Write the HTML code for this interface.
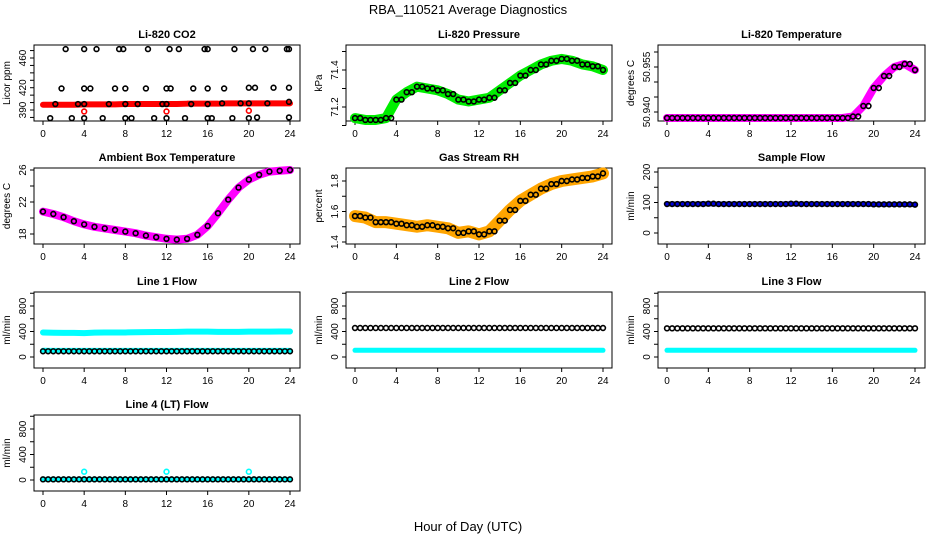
<!DOCTYPE html>
<html><head><meta charset="utf-8"><style>
body{margin:0;background:#fff}
svg{display:block;font-family:"Liberation Sans",Arial,sans-serif}
</style></head><body>
<svg id="c" width="936" height="540" viewBox="0 0 936 540">
<text x="468" y="14" text-anchor="middle" font-size="13">RBA_110521  Average Diagnostics</text>
<text x="468" y="531" text-anchor="middle" font-size="13">Hour of Day (UTC)</text>
</svg>
<script>
const hours=[0,1,2,3,4,5,6,7,8,9,10,11,12,13,14,15,16,17,18,19,20,21,22,23,24];
const xTicks=[0,4,8,12,16,20,24];
const co2Red=[397,397,397,397,397.5,397.5,397.5,397.5,398,398,398,398,398,398,398.5,398.5,398.5,398.5,399,399,399,399,399,399,399];
const co2RedOut=[[4,388],[12,388],[20,389]];
const co2Black=[[2.2,472],[4,472],[5.2,472],[7.4,472],[7.8,472],[10.2,472],[12.3,472],[13.2,472],[15.7,472],[16,472],[18.6,472],[20.4,472],[21.6,472],[23.7,472],[23.9,472],
[1.8,419],[4,419],[4.6,419],[7,419],[8,419],[10,419],[12,419],[12.4,419],[14.6,419],[16,419],[17.6,419],[20,420],[20.6,420],[22.4,420],[23.9,420],
[1.2,398],[3.4,398],[4,398],[6.4,398],[8,398],[9.2,398],[11.6,398],[12,398],[14.4,398],[16,398],[17.4,399],[19.2,399],[20,399],[21.8,399],[23.9,401],
[0.7,379],[2.8,379],[4,379],[5.8,379],[8,379],[8.6,379],[10.8,379],[12,379],[13.8,379],[16,379],[16.4,379],[18.4,379],[20,379],[20.8,380],[23.9,380]];
const pressure=[71.14,71.13,71.13,71.14,71.24,71.28,71.31,71.30,71.29,71.27,71.24,71.23,71.24,71.25,71.29,71.33,71.37,71.40,71.43,71.45,71.46,71.45,71.43,71.42,71.40];
const licorTemp=[50.938,50.938,50.938,50.938,50.938,50.938,50.938,50.938,50.938,50.938,50.938,50.938,50.938,50.938,50.938,50.938,50.938,50.938,50.9385,50.942,50.948,50.952,50.955,50.956,50.954];
const ambient=[20.8,20.5,20.1,19.6,19.2,18.9,18.7,18.5,18.3,18.1,17.8,17.6,17.4,17.3,17.4,17.9,19.0,20.6,22.3,23.8,24.8,25.4,25.8,25.9,26.0];
const rh=[1.57,1.56,1.53,1.53,1.52,1.51,1.50,1.51,1.50,1.49,1.46,1.47,1.45,1.47,1.54,1.61,1.67,1.71,1.75,1.78,1.80,1.81,1.82,1.83,1.85];
const sampleFlow=[95,95,95,95,96,95,95,95,95,95,95,95,96,95,95,95,95,95,95,95,94,94,94,94,93];
const line1Hi=[385,380,378,378,375,382,385,385,385,388,390,392,392,395,398,398,398,395,395,395,398,398,398,400,400];
const line1Lo=[105,103,103,103,103,103,103,103,103,103,103,103,103,103,103,103,103,103,103,103,103,103,103,103,103];
const line1Black=[90,90,90,90,90,90,90,90,90,90,90,90,90,90,90,90,90,90,90,90,90,90,90,90,90];
const line2Black=[455,455,455,455,455,455,455,455,455,455,455,455,455,455,455,455,455,455,455,455,455,455,455,455,455];
const line2Cyan=[105,105,105,105,105,105,105,105,105,105,105,105,105,105,105,105,105,105,105,105,105,105,105,105,105];
const line3Black=[450,450,450,450,450,450,450,450,450,450,450,450,450,450,450,450,450,450,450,450,450,450,450,450,450];
const line3Cyan=[105,105,105,105,105,105,105,105,105,105,105,105,105,105,105,105,105,105,105,105,105,105,105,105,105];
const line4Black=[10,10,10,10,10,10,10,10,10,10,10,10,10,10,10,10,10,10,10,10,10,10,10,10,10];
const line4Out=[[4,130],[12,130],[20,130]];

const svg=document.getElementById('c');
const NS='http://www.w3.org/2000/svg';
function mk(t,a,p){const e=document.createElementNS(NS,t);for(const k in a)e.setAttribute(k,a[k]);(p||svg).appendChild(e);return e;}
const cols=[{b:[34,300],x0:43,x24:290},{b:[346,612],x0:355,x24:603},{b:[658,925],x0:667,x24:915}];
const rows=[[45,121],[168,244],[292,368],[415,491]];

function panel(name,title,ylab,c,r,y1,py1,y2,py2,ticks,labels){
  const g=mk('g',{});
  
  
  const C=cols[c],R=rows[r];
  const sx=v=>C.x0+(C.x24-C.x0)*v/24;
  const sy=v=>py1+(v-y1)*(py2-py1)/(y2-y1);
  const box=mk('rect',{x:C.b[0],y:R[0],width:C.b[1]-C.b[0],height:R[1]-R[0],fill:'none',stroke:'#000','stroke-width':1},g);
  
  
  const t=mk('text',{x:(C.b[0]+C.b[1])/2,y:R[0]-7,'text-anchor':'middle','font-size':11,'font-weight':'bold'},g);t.textContent=title;
  
  
  mk('line',{x1:sx(0),x2:sx(24),y1:R[1],y2:R[1],stroke:'#000'},g);
  xTicks.forEach(v=>{mk('line',{x1:sx(v),x2:sx(v),y1:R[1],y2:R[1]+4,stroke:'#000'},g);
    const l=mk('text',{x:sx(v),y:R[1]+16,'text-anchor':'middle','font-size':10},g);l.textContent=v;
    
    });
  const tv=ticks.map(sy);
  mk('line',{x1:C.b[0],x2:C.b[0],y1:Math.min(...tv),y2:Math.max(...tv),stroke:'#000'},g);
  ticks.forEach((v,i)=>{const y=sy(v);mk('line',{x1:C.b[0]-4,x2:C.b[0],y1:y,y2:y,stroke:'#000'},g);
    if(labels[i]!==''){const l=mk('text',{x:0,y:0,'text-anchor':'middle','font-size':10,transform:`translate(${C.b[0]-8},${y}) rotate(-90)`},g);l.textContent=labels[i];
    
    }});
  const yl=mk('text',{x:0,y:0,'text-anchor':'middle','font-size':10,transform:`translate(${C.b[0]-24},${(R[0]+R[1])/2}) rotate(-90)`},g);yl.textContent=ylab;
  
  
  return {g,sx,sy};
}
function band(P,arr,color,w,name){
  const pl=mk('polyline',{points:arr.map((v,i)=>P.sx(hours[i])+','+P.sy(v)).join(' '),fill:'none',stroke:color,'stroke-width':w,'stroke-linecap':'round','stroke-linejoin':'round'},P.g);
  
  
}
function pts(P,arr,color,name,off){
  arr.forEach((v,i)=>{if(off&&i===24)return;const c=mk('circle',{cx:P.sx(hours[i]+(off||0)),cy:P.sy(v),r:2.4,fill:'none',stroke:color,'stroke-width':1.6},P.g);
  
  });
}
function xy(P,arr,color,name){
  arr.forEach(d=>{const c=mk('circle',{cx:P.sx(d[0]),cy:P.sy(d[1]),r:2.4,fill:'none',stroke:color,'stroke-width':1.6},P.g);
  
  });
}
let P;
P=panel('co2-panel','Li-820 CO2','Licor ppm',0,0,390,110,460,58,[380,390,400,410,420,430,440,450,460,470],['','390','','','420','','','','460','']);
band(P,co2Red,'#ff0000',6,'co2-red-series');xy(P,co2RedOut,'#ff0000','co2-red-point');xy(P,co2Black,'#000','co2-black-point');
P=panel('pressure-panel','Li-820 Pressure','kPa',1,0,71.2,107,71.4,70,[71.1,71.2,71.3,71.4,71.5],['','71.2','','71.4','']);
band(P,pressure,'#00ee00',10,'pressure-series');pts(P,pressure,'#000','pressure-point',0.5);pts(P,pressure,'#000','pressure-point',0);
P=panel('licor-temp-panel','Li-820 Temperature','degrees C',2,0,50.940,112,50.955,67,[50.940,50.945,50.950,50.955,50.960],['50.940','','','50.955','']);
band(P,licorTemp,'#ff00ff',8,'licor-temp-series');pts(P,licorTemp,'#000','licor-temp-point',0.5);pts(P,licorTemp,'#000','licor-temp-point',0);
P=panel('ambient-panel','Ambient Box Temperature','degrees C',0,1,18,234,26,170,[18,20,22,24,26],['18','','22','','26']);
band(P,ambient,'#ff00ff',8,'ambient-series');pts(P,ambient,'#000','ambient-point',0);
P=panel('rh-panel','Gas Stream RH','percent',1,1,1.4,242,1.8,181,[1.4,1.5,1.6,1.7,1.8],['1.4','','1.6','','1.8']);
band(P,rh,'#ffa500',12,'rh-series');pts(P,rh,'#000','rh-point',0.5);pts(P,rh,'#000','rh-point',0);
P=panel('sample-flow-panel','Sample Flow','ml/min',2,1,0,233,200,172,[0,50,100,150,200],['0','','100','','200']);
band(P,sampleFlow,'#0000dd',5,'sample-flow-series');pts(P,sampleFlow,'#000','sample-flow-point',0.5);pts(P,sampleFlow,'#000','sample-flow-point',0);
P=panel('line1-panel','Line 1 Flow','ml/min',0,2,0,357,800,306,[0,200,400,600,800,1000],['0','','400','','800','']);
band(P,line1Hi,'#00ffff',6,'line1-cyan-high');band(P,line1Lo,'#00ffff',5,'line1-cyan-low');pts(P,line1Black,'#000','line1-point',0.5);pts(P,line1Black,'#000','line1-point',0);
P=panel('line2-panel','Line 2 Flow','ml/min',1,2,0,357,800,306,[0,200,400,600,800,1000],['0','','400','','800','']);
band(P,line2Cyan,'#00ffff',5,'line2-cyan');pts(P,line2Black,'#000','line2-point',0.5);pts(P,line2Black,'#000','line2-point',0);
P=panel('line3-panel','Line 3 Flow','ml/min',2,2,0,357,800,306,[0,200,400,600,800,1000],['0','','400','','800','']);
band(P,line3Cyan,'#00ffff',5,'line3-cyan');pts(P,line3Black,'#000','line3-point',0.5);pts(P,line3Black,'#000','line3-point',0);
P=panel('line4-panel','Line 4 (LT) Flow','ml/min',0,3,0,480,800,429,[0,200,400,600,800,1000],['0','','400','','800','']);
band(P,line4Black,'#00ffff',5,'line4-cyan');xy(P,line4Out,'#00ffff','line4-cyan-point');pts(P,line4Black,'#000','line4-point',0.5);pts(P,line4Black,'#000','line4-point',0);
</script>
</body></html>
